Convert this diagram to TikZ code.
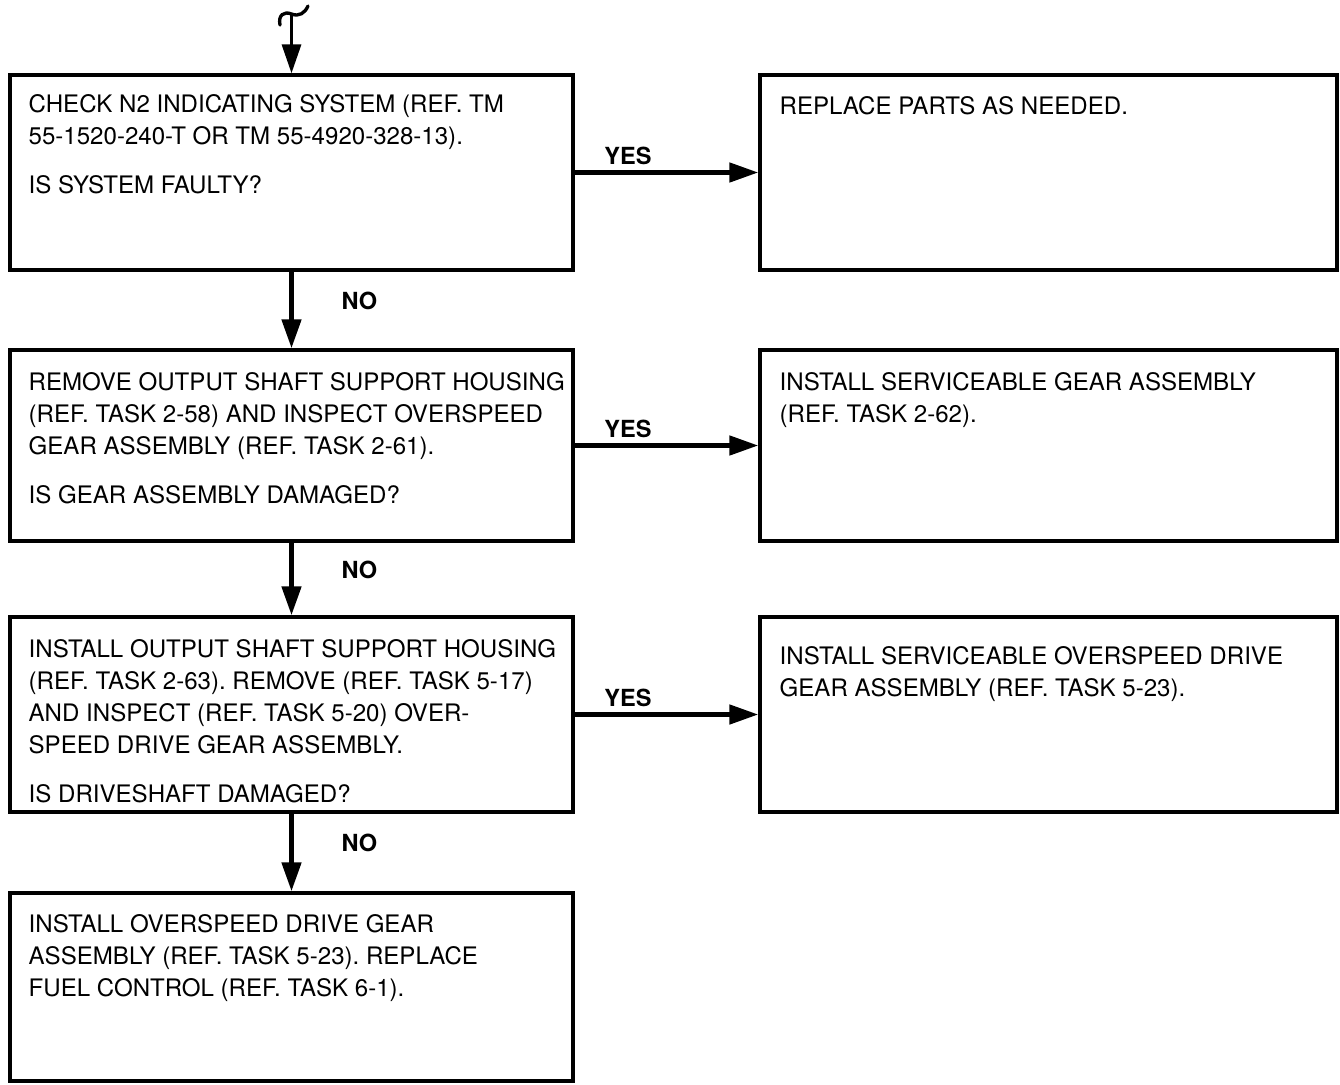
\documentclass[tikz,border=0pt]{standalone}
\usepackage{fontspec}
\setmainfont{TeX Gyre Heros}
\usepackage{tikz}
\usetikzlibrary{arrows.meta, positioning}
\frenchspacing

\begin{document}
\begin{tikzpicture}[
  lbox/.style={rectangle, draw, line width=1.9pt, minimum width=11.26cm, inner sep=0pt},
  rbox/.style={rectangle, draw, line width=1.9pt, minimum width=11.54cm, inner sep=0pt},
  txt/.style={inner sep=0pt, align=left, font=\fontsize{13.7}{18.2}\selectfont},
  lbl/.style={inner sep=3pt, font=\fontsize{13.4}{16}\selectfont\bfseries},
  arr/.style={-{Triangle[length=5.8mm, width=3.8mm]}, line width=2.7pt}
]
  \useasboundingbox (0,0) rectangle (26.8,-21.68);

  % Decision boxes
  \node[lbox, minimum height=3.9cm]  (b1) at (5.83,-3.45)  {};
  \node[lbox, minimum height=3.82cm] (b2) at (5.83,-8.91)  {};
  \node[lbox, minimum height=3.9cm]  (b3) at (5.83,-14.29) {};
  \node[lbox, minimum height=3.76cm] (b4) at (5.83,-19.74) {};

  % Action boxes
  \node[rbox, minimum height=3.9cm]  (r1) at (20.97,-3.45)  {};
  \node[rbox, minimum height=3.82cm] (r2) at (20.97,-8.91)  {};
  \node[rbox, minimum height=3.9cm]  (r3) at (20.97,-14.29) {};

  % Texts
  \node[txt, below right=4.1mm and 4mm of b1.north west] (t1)
    {CHECK N2 INDICATING SYSTEM (REF. TM\\55-1520-240-T OR TM 55-4920-328-13).\\[9.6pt]IS SYSTEM FAULTY?};
  \node[txt, below right=4.8mm and 4mm of b2.north west] (t2)
    {REMOVE OUTPUT SHAFT SUPPORT HOUSING\\(REF. TASK 2-58) AND INSPECT OVERSPEED\\GEAR ASSEMBLY (REF. TASK 2-61).\\[9.6pt]IS GEAR ASSEMBLY DAMAGED?};
  \node[txt, below right=4.8mm and 4mm of b3.north west] (t3)
    {INSTALL OUTPUT SHAFT SUPPORT HOUSING\\(REF. TASK 2-63). REMOVE (REF. TASK 5-17)\\AND INSPECT (REF. TASK 5-20) OVER-\\SPEED DRIVE GEAR ASSEMBLY.\\[9.6pt]IS DRIVESHAFT DAMAGED?};
  \node[txt, below right=4.6mm and 4mm of b4.north west] (t4)
    {INSTALL OVERSPEED DRIVE GEAR\\ASSEMBLY (REF. TASK 5-23). REPLACE\\FUEL CONTROL (REF. TASK 6-1).};
  \node[txt, below right=4.6mm and 4.2mm of r1.north west] (s1)
    {REPLACE PARTS AS NEEDED.};
  \node[txt, below right=4.8mm and 4.2mm of r2.north west] (s2)
    {INSTALL SERVICEABLE GEAR ASSEMBLY\\(REF. TASK 2-62).};
  \node[txt, below right=6.2mm and 4.2mm of r3.north west] (s3)
    {INSTALL SERVICEABLE OVERSPEED DRIVE\\GEAR ASSEMBLY (REF. TASK 5-23).};

  % Entry mark
  \coordinate (entry) at (5.83,-0.28);
  \draw[line width=1.9pt, line cap=round] (5.6,-0.5) .. controls (5.56,-0.3) and (5.68,-0.22) .. (entry)
    .. controls (5.98,-0.34) and (6.1,-0.26) .. (6.16,-0.12);
  \draw[arr, line width=1.9pt] (entry) -- (b1);

  % NO branches
  \foreach \i [evaluate=\i as \j using int(\i+1)] in {1,...,3} {
    \draw[arr] (b\i) -- node[lbl, right=8.5mm, pos=0.38] {NO} (b\j);
  }

  % YES branches
  \foreach \i in {1,...,3} {
    \draw[arr] (b\i) -- node[lbl, above, pos=0.29] {YES} (r\i);
  }
\end{tikzpicture}
\end{document}
